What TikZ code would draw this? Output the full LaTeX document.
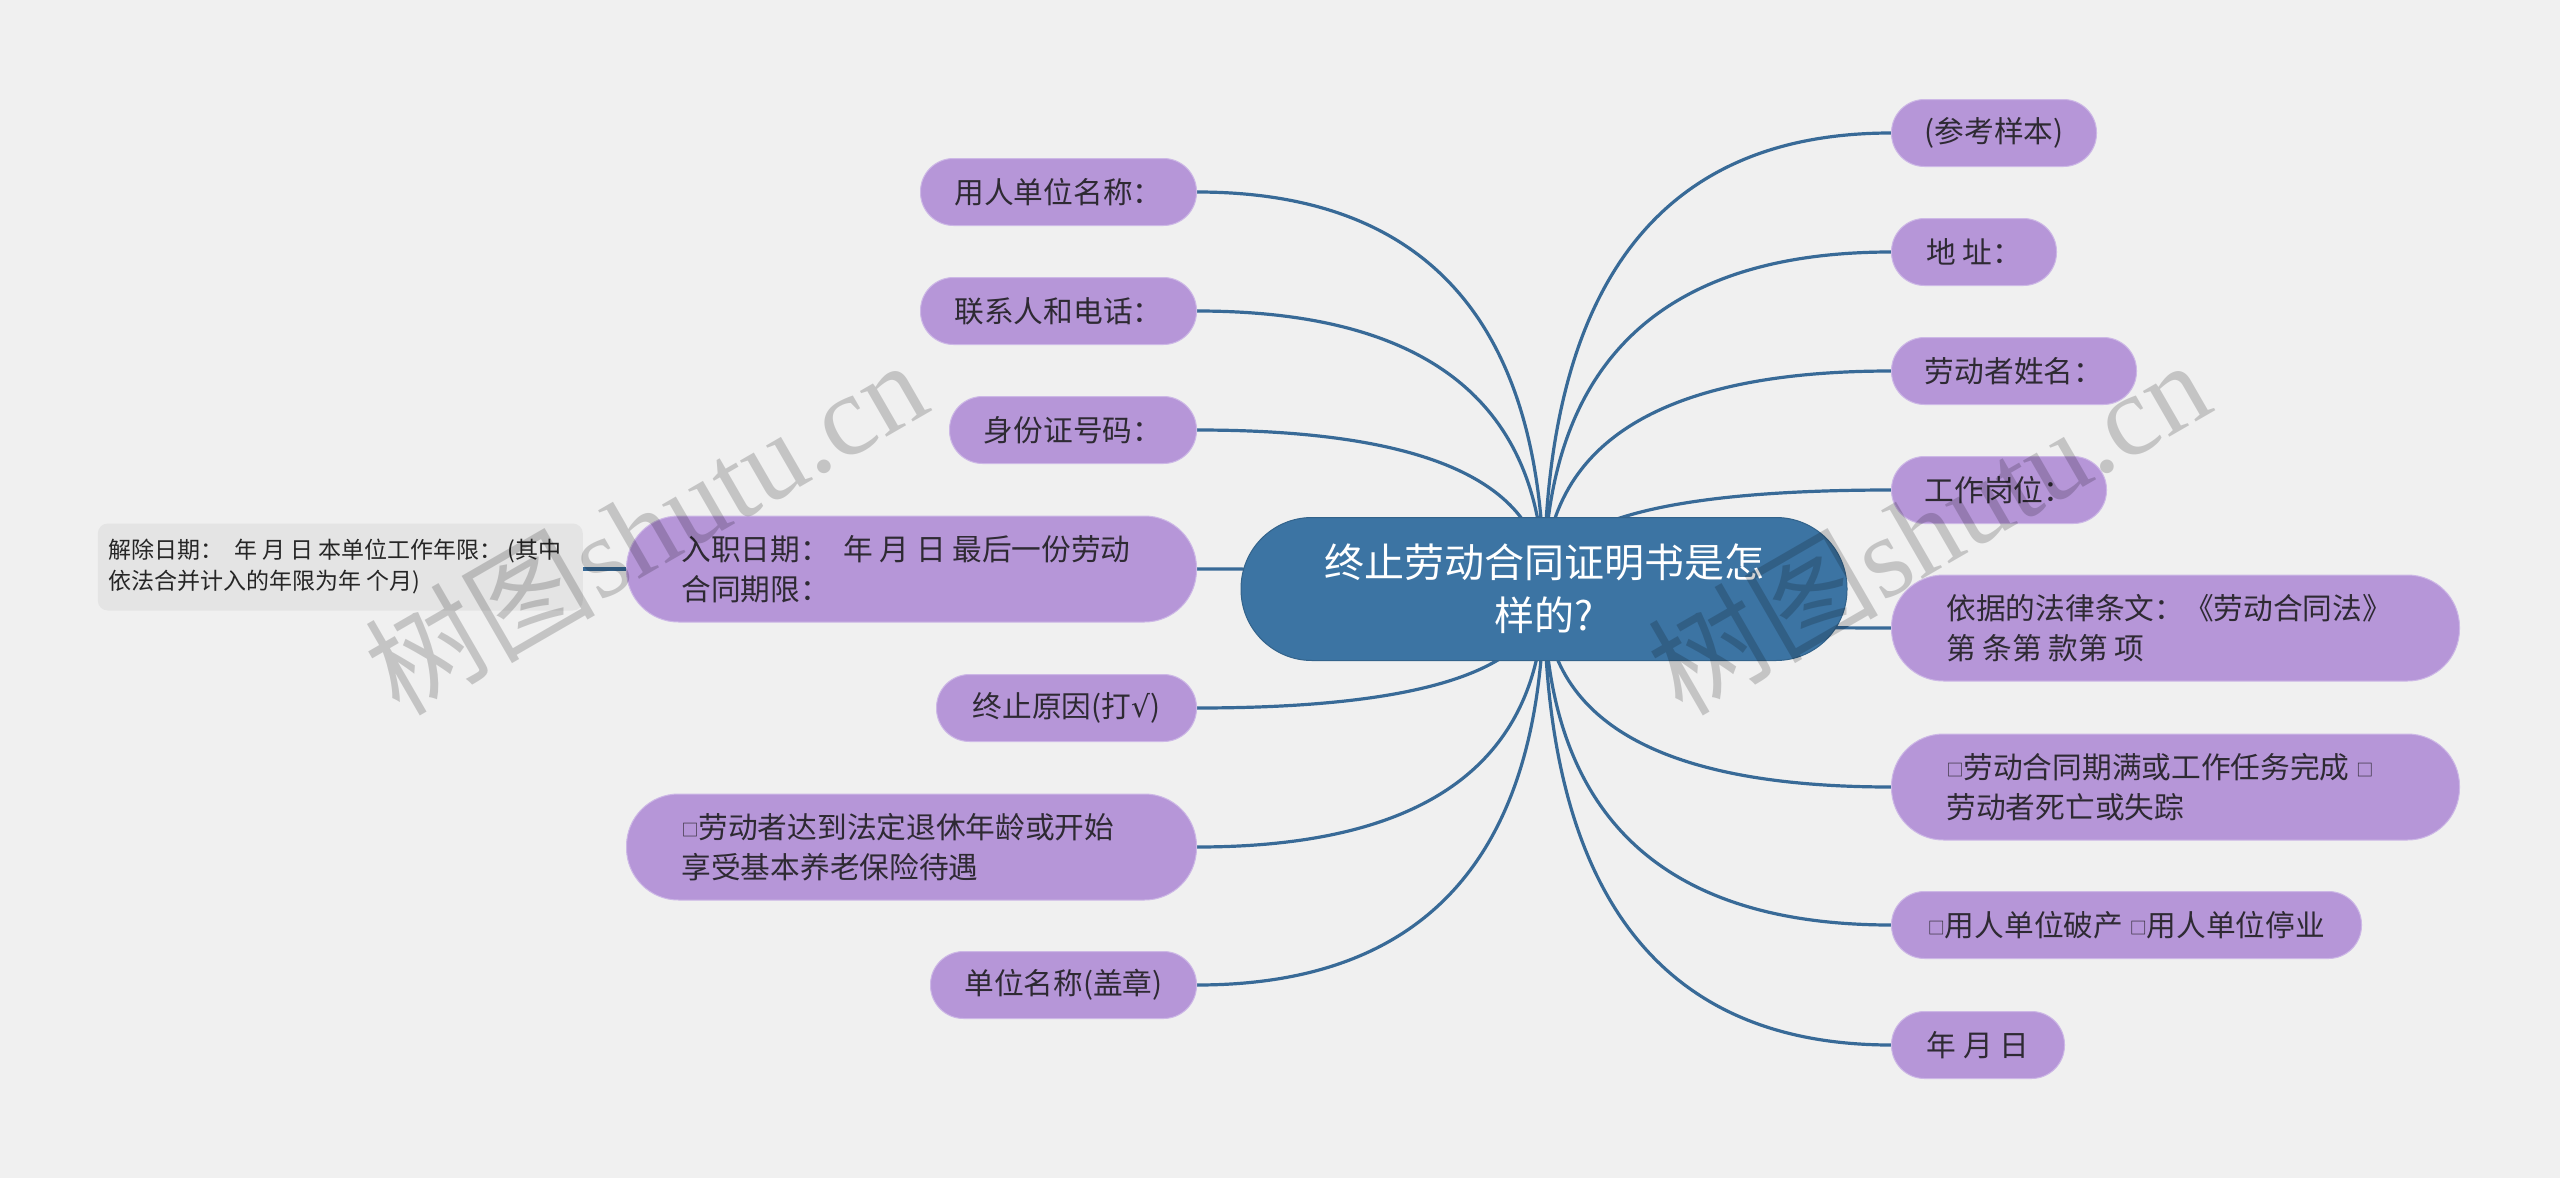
\documentclass[tikz,border=0pt]{standalone}
\usepackage{fontspec}
\setmainfont{Noto Sans CJK SC}
\newfontfamily\wmlat{Liberation Serif}
\newfontfamily\symf{DejaVu Sans}
\usetikzlibrary{calc,backgrounds}
\definecolor{bgc}{HTML}{F0F0F0}
\definecolor{leaff}{HTML}{B696D8}
\definecolor{leafd}{HTML}{CDB8E6}
\definecolor{ctrf}{HTML}{3C74A3}
\definecolor{linec}{HTML}{386A97}
\definecolor{txt}{HTML}{2E2A33}
\definecolor{subf}{HTML}{E4E4E4}
\newcommand\bx{\raisebox{2pt}{\fontsize{17}{17}\selectfont □}}
\newcommand\lnk[1]{\draw[conn] (c.center) .. controls ($(c.center)!0.667!(c.center |- #1)$) and ($(#1)!0.667!(c.center |- #1)$) .. (#1);}
\begin{document}
\begin{tikzpicture}[x=1pt,y=-1pt,
  leaf/.style={rectangle, fill=leaff, draw=leafd, line width=1pt, rounded corners=33pt,
    minimum height=67pt, inner sep=0pt, text=txt, font=\fontsize{29.7}{40}\selectfont, align=left},
  leaftwo/.style={leaf, rounded corners=52pt, minimum height=106pt, inner xsep=55pt, align=flush left},
  hub/.style={rectangle, fill=ctrf, draw=ctrf!85!black, line width=1pt, rounded corners=71pt,
    minimum width=606pt, minimum height=143pt, inner sep=0pt, text=white,
    font=\fontsize{40}{53}\selectfont, align=center},
  subbox/.style={rectangle, fill=subf, rounded corners=10pt, text width=463pt, inner xsep=11pt,
    minimum height=87pt, inner ysep=0pt, text=black!85, font=\fontsize{23}{31}\selectfont, align=flush left},
  conn/.style={draw=linec, line width=3.2pt},
  wm/.style={text=black, text opacity=0.18, rotate=30, inner sep=0pt}
]
\useasboundingbox (0,0) rectangle (2560,1178);

% center
\node[hub] (c) at (1544,589) {终止劳动合同证明书是怎\\样的?};

% left
\node[leaf, anchor=east, minimum width=276pt] (L1) at (1197,192) {用人单位名称：};
\node[leaf, anchor=east, minimum width=276pt] (L2) at (1197,311) {联系人和电话：};
\node[leaf, anchor=east, minimum width=247pt] (L3) at (1197,430) {身份证号码：};
\node[leaftwo, anchor=east, text width=460pt] (L4) at (1197,569) {入职日期：\ \ 年 月 日 最后一份劳动\\合同期限：};
\node[leaf, anchor=east, minimum width=260pt] (L5) at (1197,708) {终止原因(打{\symf √})};
\node[leaftwo, anchor=east, text width=460pt] (L6) at (1197,847) {\bx 劳动者达到法定退休年龄或开始\\享受基本养老保险待遇};
\node[leaf, anchor=east, minimum width=266pt] (L7) at (1197,985) {单位名称(盖章)};

% sub node
\node[subbox, anchor=east] (s) at (583,567) {解除日期：\ \ 年 月 日 本单位工作年限：\ (其中\\依法合并计入的年限为年 个月)};

% right
\node[leaf, anchor=west, minimum width=205pt] (R1) at (1891,133) {(参考样本)};
\node[leaf, anchor=west, minimum width=165pt] (R2) at (1891,252) {地 址：};
\node[leaf, anchor=west, minimum width=245pt] (R3) at (1891,371) {劳动者姓名：};
\node[leaf, anchor=west, minimum width=215pt] (R4) at (1891,490) {工作岗位：};
\node[leaftwo, anchor=west, text width=458pt] (R5) at (1891,628) {依据的法律条文：《劳动合同法》\\第 条第 款第 项};
\node[leaftwo, anchor=west, text width=458pt] (R6) at (1891,787) {\bx 劳动合同期满或工作任务完成 \bx\\劳动者死亡或失踪};
\node[leaf, anchor=west, minimum width=470pt] (R7) at (1891,925) {\bx 用人单位破产 \bx 用人单位停业};
\node[leaf, anchor=west, minimum width=173pt] (R8) at (1891,1045) {年 月 日};

% watermarks
\node[wm, font=\fontsize{115}{115}\selectfont] (w1) at (645,526) {树图{\wmlat shutu.cn}};
\node[wm, font=\fontsize{115}{115}\selectfont] (w2) at (1928,526) {树图{\wmlat shutu.cn}};

\begin{scope}[on background layer]
  \fill[bgc] (0,0) rectangle (2560,1178);
  \lnk{L1.east}\lnk{L2.east}\lnk{L3.east}\lnk{L4.east}\lnk{L5.east}\lnk{L6.east}\lnk{L7.east}
  \lnk{R1.west}\lnk{R2.west}\lnk{R3.west}\lnk{R4.west}\lnk{R5.west}\lnk{R6.west}\lnk{R7.west}\lnk{R8.west}
  \draw[conn] (L4.west) -- (s.east |- L4.west);
\end{scope}
\end{tikzpicture}
\end{document}
